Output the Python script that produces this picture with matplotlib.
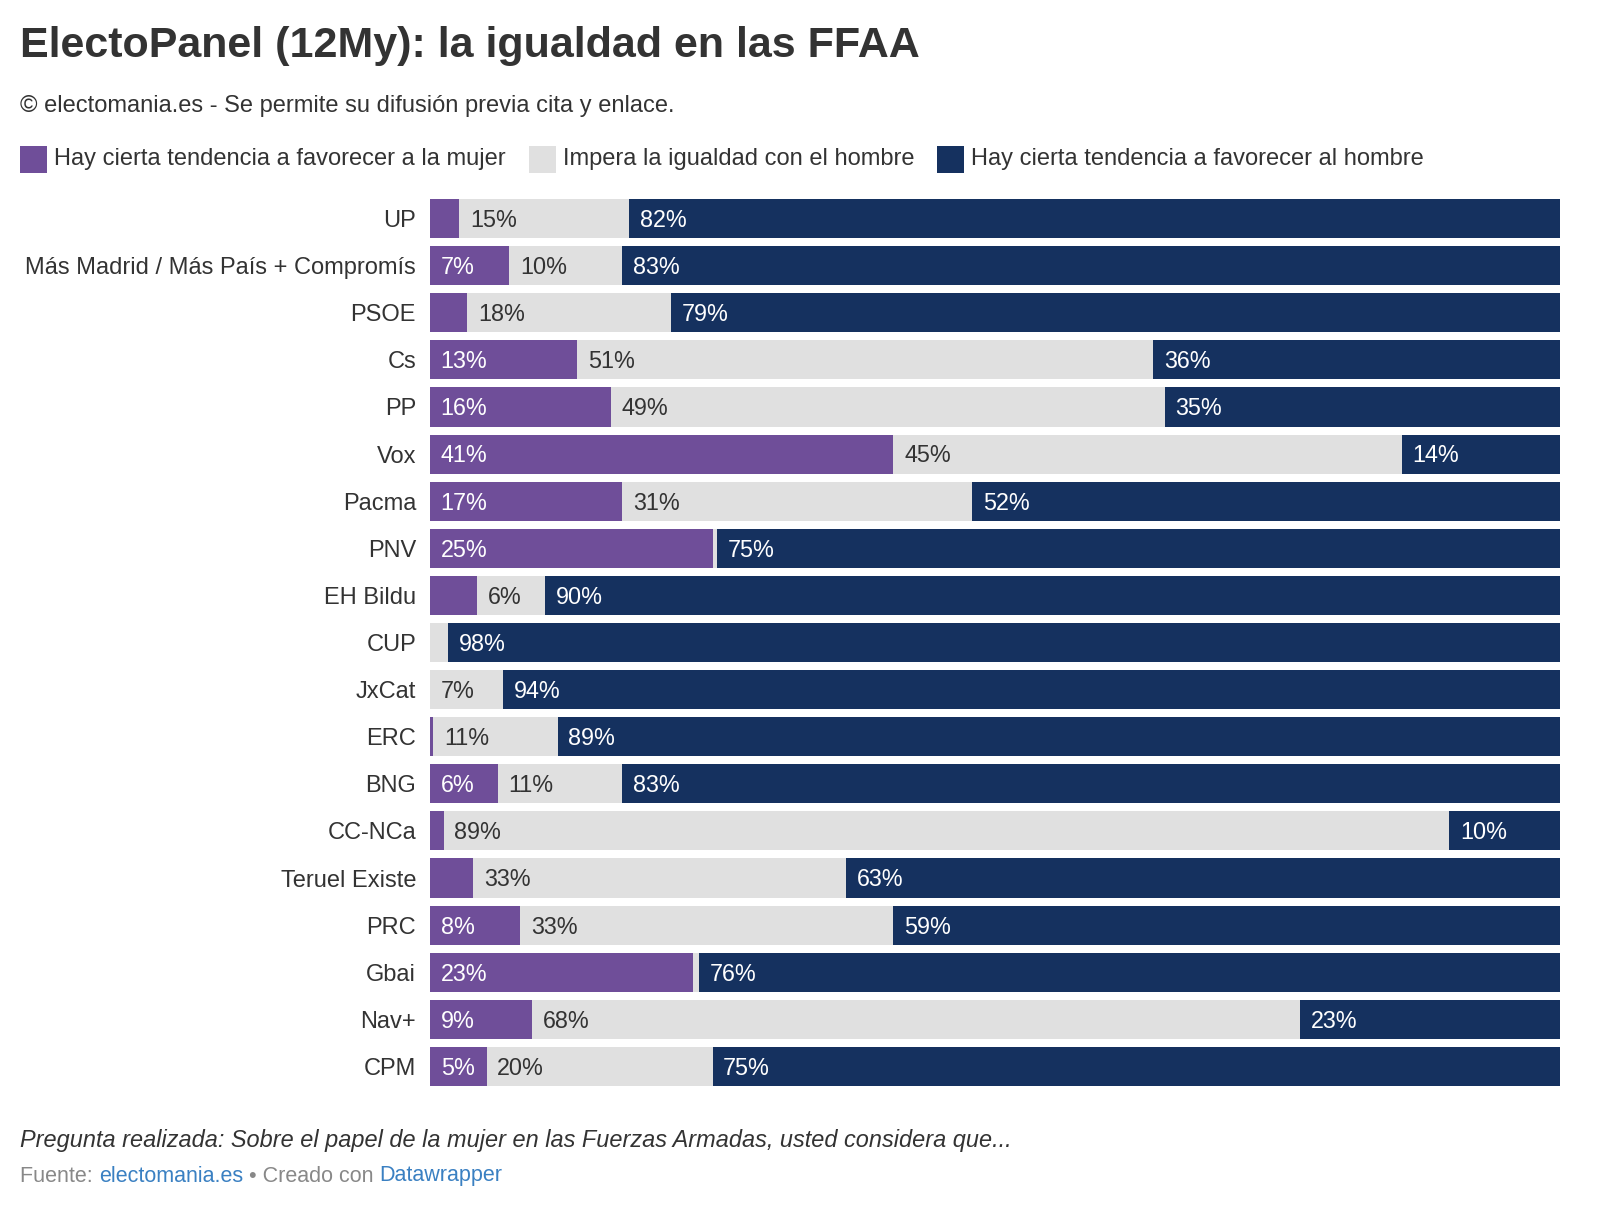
import numpy as np
import matplotlib
matplotlib.use("Agg")
import matplotlib.pyplot as plt
from matplotlib.patches import Rectangle

plt.rcParams["font.family"] = ["Liberation Sans", "DejaVu Sans"]

parties = ["UP", "Más Madrid / Más País + Compromís", "PSOE", "Cs", "PP", "Vox", "Pacma",
           "PNV", "EH Bildu", "CUP", "JxCat", "ERC", "BNG", "CC-NCa", "Teruel Existe",
           "PRC", "Gbai", "Nav+", "CPM"]
# values (percent)
favor_mujer = [2.6, 7, 3.3, 13, 16, 41, 17, 25, 4.2, 0, 0, 0.3, 6, 1.2, 3.8, 8, 23.3, 9, 5]
igualdad = [15, 10, 18, 51, 49, 45, 31, 0.4, 6, 1.6, 6.5, 11, 11, 89, 33, 33, 0.5, 68, 20]
favor_hombre = [82.4, 83, 78.7, 36, 35, 14, 52, 74.6, 89.8, 98.4, 93.5, 88.7, 83, 9.8, 63.2, 59, 76.2, 23, 75]

series_names = ["Hay cierta tendencia a favorecer a la mujer",
                "Impera la igualdad con el hombre",
                "Hay cierta tendencia a favorecer al hombre"]
colors = ["#6f4e99", "#e0e0e0", "#15315f"]
text_colors = ["white", "#333333", "white"]

W, H = 1598, 1220
fig = plt.figure(figsize=(W / 100, H / 100), dpi=100)
fig.patch.set_facecolor("white")

# axes placed in pixel coordinates
ax_left, ax_right, ax_top, ax_bottom = 430, 1560, 199, 1086
ax = fig.add_axes([ax_left / W, 1 - ax_bottom / H, (ax_right - ax_left) / W, (ax_bottom - ax_top) / H])

n = len(parties)
y = np.arange(n)
bar_h = 0.83
data = [favor_mujer, igualdad, favor_hombre]
left = np.zeros(n)
for k, vals in enumerate(data):
    vals = np.array(vals, dtype=float)
    ax.barh(y, vals, left=left, height=bar_h, color=colors[k], linewidth=0)
    for i, v in enumerate(vals):
        if v >= 4.5:
            ax.text(left[i] + 0.95, y[i] + 0.04, f"{int(v + 0.5)}%", va="center", ha="left",
                    fontsize=16.8, color=text_colors[k])
    left += vals

ax.set_xlim(0, 100)
ax.set_ylim(n - 1 + bar_h / 2, -bar_h / 2)
ax.set_yticks(y)
ax.set_yticklabels(parties, fontsize=17, color="#333333")
ax.tick_params(axis="y", length=0, pad=10)
ax.set_xticks([])
for s in ax.spines.values():
    s.set_visible(False)

# title / subtitle
fig.text(20 / W, 1 - 46 / H, "ElectoPanel (12My): la igualdad en las FFAA", fontsize=31,
         fontweight="bold", color="#333333", va="center", ha="left")
fig.text(20 / W, 1 - 106 / H, "© electomania.es - Se permite su difusión previa cita y enlace.",
         fontsize=17, color="#333333", va="center", ha="left")

# legend
lx = 20
ly = 159
for k, name in enumerate(series_names):
    fig.patches.append(Rectangle((lx / W, 1 - (ly + 14) / H), 27 / W, 27 / H,
                                 transform=fig.transFigure, color=colors[k], linewidth=0))
    t = fig.text((lx + 34) / W, 1 - ly / H, name, fontsize=17, color="#333333",
                 va="center", ha="left")
    fig.canvas.draw()
    bb = t.get_window_extent()
    lx = bb.x1 + 23

# footer
fig.text(20 / W, 1 - 1140 / H,
         "Pregunta realizada: Sobre el papel de la mujer en las Fuerzas Armadas, usted considera que...",
         fontsize=16.9, style="italic", color="#333333", va="center", ha="left")
parts = [("Fuente: ", "#888888"), ("electomania.es", "#3a80c2"), (" • Creado con ", "#888888"),
         ("Datawrapper", "#3a80c2")]
fx = 20
for txt, c in parts:
    t = fig.text(fx / W, 1 - 1176 / H, txt, fontsize=15.5, color=c, va="center", ha="left")
    fig.canvas.draw()
    fx = t.get_window_extent().x1

fig.savefig("out.png", dpi=100, facecolor="white")
